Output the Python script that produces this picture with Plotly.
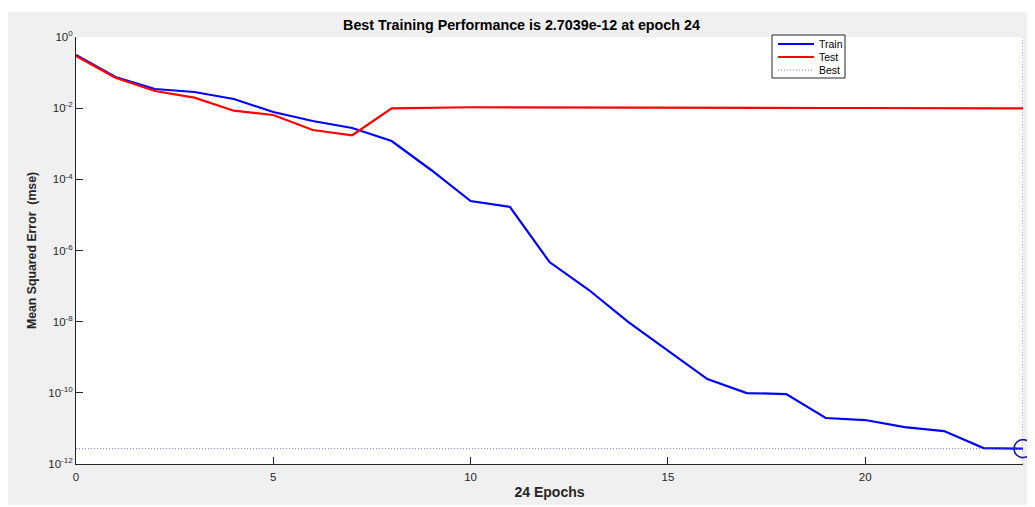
import plotly.graph_objects as go

epochs = list(range(25))
train_mse = [0.312, 0.0751, 0.0346, 0.0285, 0.0181, 0.0078, 0.00436, 0.00277, 0.00119,
             1.83e-4, 2.46e-5, 1.67e-5, 4.74e-7, 7.75e-8, 9.77e-9, 1.50e-9, 2.44e-10,
             9.87e-11, 9.25e-11, 1.96e-11, 1.72e-11, 1.09e-11, 8.44e-12, 2.81e-12, 2.7039e-12]
test_mse = [0.292, 0.0718, 0.0303, 0.0197, 0.00849, 0.00643, 0.00243, 0.00173, 0.00991,
            0.0104, 0.0106, 0.0105, 0.0104, 0.0103, 0.0102, 0.0101, 0.0100,
            0.0101, 0.0101, 0.0101, 0.0101, 0.0100, 0.0100, 0.0099, 0.0099]
best_epoch = 24
best_perf = 2.7039e-12
ytick_exps = [0, -2, -4, -6, -8, -10, -12]
xticks = [0, 5, 10, 15, 20]
legend_names = ["Train", "Test", "Best"]

# page body has an 8px margin, so the figure is placed at (8, 8) in the window
OFF = 8
W, H = 1035 - OFF, 507 - OFF
ml = 76 - OFF
mt = 37 - OFF
mr = W - (1023 - OFF)
mb = H - (464 - OFF)
pw, ph = W - ml - mr, H - mt - mb

def px(xw):
    # window pixel x -> paper x
    return (xw - OFF - ml) / pw

def py(yw):
    # window pixel y -> paper y
    return (H - mb - (yw - OFF)) / ph

blue = "#0000ff"
red = "#ff0000"
best_col = "rgba(80,80,255,0.8)"
best_dash = "1px,2px"

fig = go.Figure()
fig.add_trace(go.Scatter(x=epochs, y=train_mse, mode="lines", name=legend_names[0],
                         line=dict(color=blue, width=2.2)))
fig.add_trace(go.Scatter(x=epochs, y=test_mse, mode="lines", name=legend_names[1],
                         line=dict(color=red, width=2.2)))
fig.add_trace(go.Scatter(x=[epochs[0], best_epoch], y=[best_perf, best_perf], mode="lines",
                         name=legend_names[2], line=dict(color=best_col, width=1, dash=best_dash)))
fig.add_trace(go.Scatter(x=[best_epoch, best_epoch], y=[10.0 ** ytick_exps[-1], 10.0 ** ytick_exps[0]],
                         mode="lines", showlegend=False,
                         line=dict(color=best_col, width=1, dash=best_dash)))
fig.add_trace(go.Scatter(x=[best_epoch], y=[best_perf], mode="markers", showlegend=False,
                         marker=dict(symbol="circle-open", size=18, color="#1a1a99",
                                     line=dict(width=1.6, color="#1a1a99")),
                         cliponaxis=False))

font_family = "Liberation Sans, Arial, sans-serif"

shapes = [
    # white strips above and below the grey panel
    dict(type="rect", xref="paper", yref="paper", x0=px(OFF - 2), x1=px(1040), y0=py(12), y1=py(OFF - 2),
         fillcolor="#ffffff", line=dict(width=0), layer="above"),
    dict(type="rect", xref="paper", yref="paper", x0=px(OFF - 2), x1=px(1040), y0=py(510), y1=py(505),
         fillcolor="#ffffff", line=dict(width=0), layer="above"),
    # legend box
    dict(type="rect", xref="paper", yref="paper", x0=px(772), x1=px(845), y0=py(78), y1=py(35),
         fillcolor="#ffffff", line=dict(width=1, color="#262626"), layer="above"),
]
annotations = []
leg_rows = [44, 57, 70]
leg_styles = [dict(color=blue, width=2.2), dict(color=red, width=2.2),
              dict(color=best_col, width=1, dash=best_dash)]
for name, yrow, st in zip(legend_names, leg_rows, leg_styles):
    shapes.append(dict(type="line", xref="paper", yref="paper", x0=px(778), x1=px(814),
                       y0=py(yrow), y1=py(yrow), line=st, layer="above"))
    annotations.append(dict(text=name, xref="paper", yref="paper", x=px(817), y=py(yrow),
                            xanchor="left", yanchor="middle", showarrow=False,
                            font=dict(size=10.5, color="#000000")))

fig.update_layout(
    width=W, height=H,
    margin=dict(l=ml, r=mr, t=mt, b=mb, autoexpand=False),
    paper_bgcolor="#f0f0f0",
    plot_bgcolor="#ffffff",
    font=dict(family=font_family, color="#262626", size=11),
    title=dict(text="<b>Best Training Performance is 2.7039e-12 at epoch 24</b>",
               x=px((76 + 1023) / 2), xanchor="center", y=1 - (25 - OFF) / H, yanchor="middle",
               font=dict(size=14.3, color="#000000")),
    showlegend=False,
    shapes=shapes,
    annotations=annotations,
)
fig.update_xaxes(range=[0, 24], tickvals=xticks, ticks="inside", ticklen=7, tickcolor="#262626",
                 showline=True, linecolor="#262626", linewidth=1, mirror=False,
                 showgrid=False, zeroline=False, ticklabelstandoff=2, automargin=False,
                 tickfont=dict(size=11.5, color="#262626"),
                 title=dict(text="<b>24 Epochs</b>", font=dict(size=14, color="#262626"), standoff=5))
fig.update_yaxes(type="log", range=[ytick_exps[-1], ytick_exps[0]],
                 tickvals=[10.0 ** e for e in ytick_exps],
                 ticktext=["10<sup>%d</sup>" % e for e in ytick_exps],
                 ticks="inside", ticklen=7, tickcolor="#262626",
                 showline=True, linecolor="#262626", linewidth=1, mirror=False,
                 showgrid=False, zeroline=False, automargin=False,
                 tickfont=dict(size=11.5, color="#262626"),
                 title=dict(text="<b>Mean Squared Error  (mse)</b>", font=dict(size=12.3, color="#262626"),
                            standoff=8))

fig.write_html("out.html")
